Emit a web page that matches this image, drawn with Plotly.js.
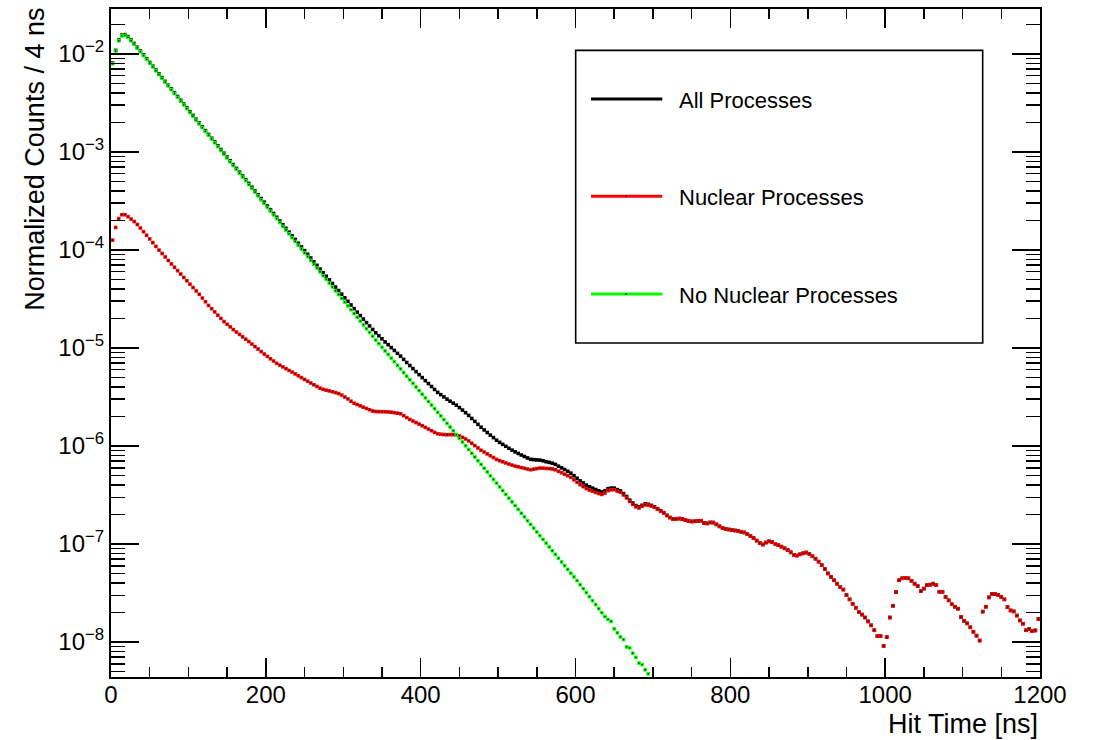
<!DOCTYPE html>
<html>
<head>
<meta charset="utf-8">
<script src="https://cdn.plot.ly/plotly-3.0.1.min.js"></script>
<style>
html,body{margin:0;padding:0;background:#ffffff;}
#chart{width:1096px;height:740px;}
</style>
</head>
<body>
<div id="chart"></div>
<script>
// Histogram binning: 300 bins of 4 ns from 0 to 1200 ns (values are bin contents)
const binWidthNs = 4;
const nBins = 300;

// log10 of normalized counts per 4 ns bin
const allProcessesLog10 = [
-2.093,-1.963,-1.858,-1.808,-1.803,-1.823,-1.858,-1.893,-1.932,-1.970,
-2.009,-2.048,-2.087,-2.125,-2.164,-2.203,-2.241,-2.280,-2.319,-2.357,
-2.396,-2.434,-2.473,-2.511,-2.550,-2.589,-2.627,-2.666,-2.705,-2.743,
-2.782,-2.821,-2.860,-2.898,-2.937,-2.975,-3.013,-3.052,-3.091,-3.129,
-3.168,-3.206,-3.245,-3.283,-3.321,-3.360,-3.398,-3.436,-3.475,-3.512,
-3.551,-3.589,-3.628,-3.666,-3.704,-3.742,-3.779,-3.818,-3.856,-3.893,
-3.931,-3.969,-4.007,-4.044,-4.082,-4.120,-4.157,-4.195,-4.232,-4.268,
-4.305,-4.342,-4.378,-4.414,-4.451,-4.488,-4.524,-4.561,-4.598,-4.634,
-4.670,-4.705,-4.741,-4.775,-4.811,-4.845,-4.875,-4.906,-4.938,-4.966,
-4.996,-5.025,-5.055,-5.083,-5.116,-5.148,-5.179,-5.210,-5.241,-5.272,
-5.302,-5.333,-5.363,-5.393,-5.423,-5.453,-5.476,-5.499,-5.522,-5.543,
-5.563,-5.583,-5.608,-5.634,-5.660,-5.688,-5.719,-5.749,-5.779,-5.808,
-5.836,-5.862,-5.889,-5.914,-5.941,-5.963,-5.983,-6.003,-6.023,-6.042,
-6.060,-6.076,-6.092,-6.107,-6.122,-6.136,-6.139,-6.142,-6.144,-6.151,
-6.160,-6.167,-6.175,-6.188,-6.206,-6.223,-6.240,-6.258,-6.277,-6.303,
-6.329,-6.356,-6.377,-6.399,-6.416,-6.430,-6.444,-6.457,-6.468,-6.456,
-6.435,-6.429,-6.430,-6.445,-6.458,-6.486,-6.516,-6.552,-6.582,-6.608,
-6.621,-6.605,-6.591,-6.595,-6.606,-6.620,-6.640,-6.660,-6.680,-6.707,
-6.730,-6.745,-6.743,-6.740,-6.745,-6.755,-6.765,-6.770,-6.768,-6.764,
-6.762,-6.785,-6.790,-6.780,-6.781,-6.800,-6.820,-6.838,-6.846,-6.852,
-6.858,-6.862,-6.866,-6.875,-6.882,-6.900,-6.920,-6.940,-6.965,-6.990,
-7.005,-6.985,-6.973,-6.980,-6.998,-7.012,-7.027,-7.044,-7.060,-7.085,
-7.110,-7.118,-7.105,-7.095,-7.087,-7.100,-7.125,-7.150,-7.180,-7.215,
-7.255,-7.300,-7.335,-7.370,-7.405,-7.440,-7.465,-7.520,-7.565,-7.610,
-7.650,-7.695,-7.720,-7.750,-7.790,-7.830,-7.880,-7.940,-7.940,-8.040,
-7.950,-7.750,-7.630,-7.490,-7.370,-7.350,-7.345,-7.350,-7.375,-7.405,
-7.430,-7.480,-7.455,-7.420,-7.415,-7.405,-7.420,-7.487,-7.487,-7.540,
-7.575,-7.615,-7.640,-7.660,-7.745,-7.785,-7.810,-7.850,-7.895,-7.935,
-7.985,-7.690,-7.640,-7.545,-7.510,-7.510,-7.520,-7.540,-7.565,-7.645,
-7.678,-7.688,-7.730,-7.780,-7.813,-7.880,-7.867,-7.890,-7.882,-7.765
];

const nuclearLog10 = [
-3.900,-3.770,-3.680,-3.640,-3.640,-3.660,-3.685,-3.710,-3.740,-3.776,
-3.813,-3.850,-3.887,-3.925,-3.963,-4.001,-4.036,-4.071,-4.107,-4.142,
-4.176,-4.211,-4.245,-4.280,-4.314,-4.349,-4.383,-4.418,-4.452,-4.490,
-4.528,-4.566,-4.599,-4.632,-4.665,-4.698,-4.731,-4.758,-4.785,-4.812,
-4.837,-4.861,-4.886,-4.910,-4.934,-4.960,-4.986,-5.011,-5.037,-5.062,
-5.086,-5.110,-5.133,-5.157,-5.175,-5.193,-5.211,-5.229,-5.246,-5.265,
-5.284,-5.302,-5.321,-5.339,-5.357,-5.375,-5.392,-5.410,-5.422,-5.430,
-5.438,-5.446,-5.455,-5.465,-5.480,-5.500,-5.520,-5.543,-5.563,-5.577,
-5.590,-5.604,-5.617,-5.630,-5.643,-5.648,-5.649,-5.650,-5.651,-5.652,
-5.655,-5.660,-5.665,-5.671,-5.690,-5.710,-5.729,-5.745,-5.761,-5.777,
-5.793,-5.810,-5.827,-5.844,-5.861,-5.876,-5.880,-5.883,-5.885,-5.884,
-5.884,-5.885,-5.897,-5.912,-5.928,-5.948,-5.972,-5.996,-6.020,-6.043,
-6.062,-6.081,-6.100,-6.118,-6.137,-6.150,-6.161,-6.173,-6.184,-6.195,
-6.205,-6.212,-6.220,-6.227,-6.235,-6.242,-6.236,-6.230,-6.225,-6.226,
-6.229,-6.231,-6.234,-6.243,-6.258,-6.273,-6.288,-6.303,-6.320,-6.345,
-6.370,-6.395,-6.415,-6.435,-6.450,-6.462,-6.474,-6.485,-6.494,-6.480,
-6.455,-6.447,-6.446,-6.460,-6.472,-6.500,-6.530,-6.565,-6.595,-6.620,
-6.633,-6.615,-6.600,-6.603,-6.613,-6.626,-6.645,-6.665,-6.684,-6.710,
-6.730,-6.745,-6.743,-6.740,-6.745,-6.755,-6.765,-6.770,-6.768,-6.764,
-6.762,-6.785,-6.790,-6.780,-6.781,-6.800,-6.820,-6.838,-6.846,-6.852,
-6.858,-6.862,-6.866,-6.875,-6.882,-6.900,-6.920,-6.940,-6.965,-6.990,
-7.005,-6.985,-6.973,-6.980,-6.998,-7.012,-7.027,-7.044,-7.060,-7.085,
-7.110,-7.118,-7.105,-7.095,-7.087,-7.100,-7.125,-7.150,-7.180,-7.215,
-7.255,-7.300,-7.335,-7.370,-7.405,-7.440,-7.465,-7.520,-7.565,-7.610,
-7.650,-7.695,-7.720,-7.750,-7.790,-7.830,-7.880,-7.940,-7.940,-8.040,
-7.950,-7.750,-7.630,-7.490,-7.370,-7.350,-7.345,-7.350,-7.375,-7.405,
-7.430,-7.480,-7.455,-7.420,-7.415,-7.405,-7.420,-7.487,-7.487,-7.540,
-7.575,-7.615,-7.640,-7.660,-7.745,-7.785,-7.810,-7.850,-7.895,-7.935,
-7.985,-7.690,-7.640,-7.545,-7.510,-7.510,-7.520,-7.540,-7.565,-7.645,
-7.678,-7.688,-7.730,-7.780,-7.813,-7.880,-7.867,-7.890,-7.882,-7.765
];

const noNuclearLog10 = [
-2.100,-1.970,-1.865,-1.815,-1.810,-1.830,-1.865,-1.900,-1.939,-1.977,
-2.016,-2.055,-2.094,-2.132,-2.171,-2.210,-2.248,-2.287,-2.326,-2.364,
-2.403,-2.442,-2.481,-2.519,-2.558,-2.597,-2.635,-2.674,-2.713,-2.751,
-2.790,-2.829,-2.868,-2.906,-2.945,-2.984,-3.022,-3.061,-3.100,-3.138,
-3.177,-3.216,-3.255,-3.293,-3.332,-3.371,-3.409,-3.448,-3.487,-3.525,
-3.564,-3.603,-3.642,-3.680,-3.719,-3.758,-3.796,-3.835,-3.874,-3.912,
-3.951,-3.990,-4.029,-4.067,-4.106,-4.145,-4.183,-4.222,-4.261,-4.299,
-4.338,-4.377,-4.416,-4.454,-4.493,-4.532,-4.570,-4.609,-4.648,-4.686,
-4.725,-4.764,-4.803,-4.841,-4.880,-4.919,-4.955,-4.992,-5.030,-5.066,
-5.103,-5.140,-5.177,-5.213,-5.251,-5.288,-5.324,-5.361,-5.398,-5.435,
-5.472,-5.509,-5.546,-5.582,-5.619,-5.657,-5.693,-5.730,-5.769,-5.806,
-5.845,-5.883,-5.922,-5.959,-5.998,-6.036,-6.074,-6.112,-6.151,-6.188,
-6.227,-6.265,-6.304,-6.341,-6.379,-6.417,-6.455,-6.494,-6.532,-6.570,
-6.608,-6.647,-6.686,-6.723,-6.762,-6.800,-6.838,-6.877,-6.915,-6.953,
-6.991,-7.030,-7.069,-7.106,-7.145,-7.183,-7.221,-7.259,-7.298,-7.335,
-7.374,-7.415,-7.456,-7.496,-7.537,-7.578,-7.618,-7.659,-7.700,-7.740,
-7.770,-7.790,-7.865,-7.906,-7.948,-7.975,-8.050,-8.060,-8.114,-8.156,
-8.215,-8.230,-8.283,-8.324
];

const seriesNames = ["All Processes", "Nuclear Processes", "No Nuclear Processes"];
const seriesColors = ["#000000", "#ff0000", "#00ff00"];

// y-axis decades shown as labels
const decadeExponents = [-8, -7, -6, -5, -4, -3, -2];

// ---------- build plot ----------
const hitTimeNs = [];
for (let i = 0; i < nBins; i++) hitTimeNs.push(binWidthNs * i + binWidthNs / 2);

function toCounts(logArr) { return logArr.map(v => Math.pow(10, v)); }

function markerTrace(name, logArr, color, size) {
  return {
    type: 'scatter', mode: 'markers', name: name,
    x: hitTimeNs.slice(0, logArr.length), y: toCounts(logArr),
    marker: { symbol: 'square', size: size, color: color, line: { width: 0 } },
    showlegend: false, hoverinfo: 'x+y+name', cliponaxis: true
  };
}

const data = [
  markerTrace(seriesNames[0], allProcessesLog10, seriesColors[0], 3.6),
  markerTrace(seriesNames[1], nuclearLog10, seriesColors[1], 3.6),
  markerTrace(seriesNames[1], nuclearLog10, '#000000', 1.3),
  markerTrace(seriesNames[2], noNuclearLog10, seriesColors[2], 3.6),
  markerTrace(seriesNames[2], noNuclearLog10, '#000000', 1.3)
];

const yTickVals = decadeExponents.map(e => Math.pow(10, e));
const yTickText = decadeExponents.map(e => '10<sup>\u2212' + Math.abs(e) + '</sup>');
const yMinorVals = [];
for (let e = -9; e <= -2; e++) for (let k = 2; k <= 9; k++) yMinorVals.push(k * Math.pow(10, e));

const FONT = '"Liberation Sans", Arial, Helvetica, sans-serif';

// Legend (ROOT style box) in paper coordinates
const legendLineY = [0.8653, 0.7195, 0.5734];
const shapes = [
  { type: 'rect', xref: 'paper', yref: 'paper', x0: 0.5002, x1: 0.9383, y0: 0.500, y1: 0.938,
    line: { color: '#000', width: 1.6 }, fillcolor: 'rgba(255,255,255,0)', layer: 'above' }
];
const annotations = [];
for (let k = 0; k < 3; k++) {
  shapes.push({ type: 'line', xref: 'paper', yref: 'paper', x0: 0.5167, x1: 0.5934,
    y0: legendLineY[k], y1: legendLineY[k], line: { color: seriesColors[k], width: 3 }, layer: 'above' });
  if (k > 0) {
    shapes.push({ type: 'rect', xref: 'paper', yref: 'paper', x0: 0.5537, x1: 0.5551,
      y0: legendLineY[k] - 0.0011, y1: legendLineY[k] + 0.0011, line: { width: 0 }, fillcolor: '#000', layer: 'above' });
  }
  annotations.push({ xref: 'paper', yref: 'paper', x: 0.6089, y: legendLineY[k] - 0.002,
    xanchor: 'left', yanchor: 'middle', showarrow: false, text: seriesNames[k],
    font: { family: FONT, size: 22, color: '#000' } });
}
annotations.push({ xref: 'paper', yref: 'paper', x: 1.0, y: -0.0700, xanchor: 'right', yanchor: 'middle',
  showarrow: false, text: 'Hit Time [ns]', font: { family: FONT, size: 27, color: '#000' } });
annotations.push({ xref: 'paper', yref: 'paper', x: -0.0818, y: 0.7744, xanchor: 'center', yanchor: 'middle',
  showarrow: false, textangle: -90, text: 'Normalized Counts / 4 ns', font: { family: FONT, size: 27, color: '#000' } });

const layout = {
  width: 1096, height: 740,
  margin: { l: 111, r: 56, t: 9, b: 63, pad: 0 },
  paper_bgcolor: '#ffffff', plot_bgcolor: '#ffffff',
  showlegend: false,
  font: { family: FONT, color: '#000' },
  xaxis: {
    range: [0, 1200], tickmode: 'linear', tick0: 0, dtick: 200,
    ticks: 'inside', ticklen: 19, tickwidth: 1.5, tickcolor: '#000',
    ticklabelstandoff: -5,
    minor: { dtick: 50, tick0: 0, ticks: 'inside', ticklen: 10, tickwidth: 1.5, tickcolor: '#000', showgrid: false },
    showline: true, linewidth: 2, linecolor: '#000', mirror: 'allticks',
    showgrid: false, zeroline: false,
    tickfont: { family: FONT, size: 24, color: '#000' }
  },
  yaxis: {
    type: 'log', range: [-8.357, -1.541],
    tickmode: 'array', tickvals: yTickVals, ticktext: yTickText,
    ticks: 'inside', ticklen: 28, tickwidth: 1.5, tickcolor: '#000',
    minor: { tickmode: 'array', tickvals: yMinorVals, ticks: 'inside', ticklen: 14, tickwidth: 1.5, tickcolor: '#000', showgrid: false },
    showline: true, linewidth: 2, linecolor: '#000', mirror: 'allticks',
    showgrid: false, zeroline: false,
    tickfont: { family: FONT, size: 24, color: '#000' }
  },
  shapes: shapes,
  annotations: annotations
};

Plotly.newPlot('chart', data, layout, { staticPlot: true, displayModeBar: false });
</script>
</body>
</html>
